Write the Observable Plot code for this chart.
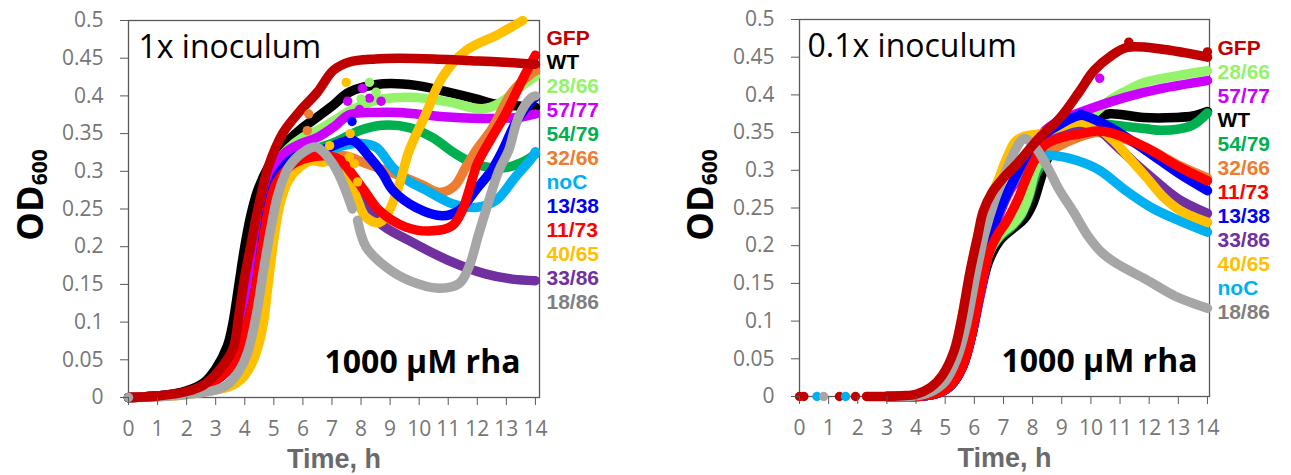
<!DOCTYPE html>
<html>
<head>
<meta charset="utf-8">
<script src="https://cdn.jsdelivr.net/npm/d3@7"></script>
<script src="https://cdn.jsdelivr.net/npm/@observablehq/plot@0.6"></script>
<style>
  body { margin: 0; background: #fff; }
  #chart { display: flex; width: 1291px; height: 475px; }
</style>
</head>
<body>
<div id="chart"></div>
<script>
// Strains, colours and draw order (first drawn is at the bottom)
const strains = ["GFP", "WT", "28/66", "57/77", "54/79", "32/66", "noC", "13/38", "11/73", "40/65", "33/86", "18/86"];
const lineColors = ["#c00000", "#000000", "#94f36a", "#cc00ff", "#00b050", "#ed7d31", "#00b0f0", "#0000ff", "#ff0000", "#ffc000", "#7030a0", "#a6a6a6"];
const labelColors = ["#c00000", "#000000", "#94f36a", "#cc00ff", "#00b050", "#ed7d31", "#00b0f0", "#0000ff", "#ff0000", "#ffc000", "#7030a0", "#7f7f7f"];
const drawOrder = ["WT", "54/79", "28/66", "57/77", "32/66", "noC", "33/86", "40/65", "13/38", "11/73", "18/86", "GFP"];
const labelOrder1x = ["GFP", "WT", "28/66", "57/77", "54/79", "32/66", "noC", "13/38", "11/73", "40/65", "33/86", "18/86"];
const labelOrder01x = ["GFP", "28/66", "57/77", "WT", "54/79", "32/66", "11/73", "13/38", "33/86", "40/65", "noC", "18/86"];
const xTicks = [0, 1, 2, 3, 4, 5, 6, 7, 8, 9, 10, 11, 12, 13, 14];
const yTicks = [0, 0.05, 0.1, 0.15, 0.2, 0.25, 0.3, 0.35, 0.4, 0.45, 0.5];

// ---- 1x inoculum: [time h, OD600] ----
const gfp_1x = [[0,0],[1,0.002],[2,0.008],[2.6,0.017],[3.2,0.04],[3.6,0.065],[3.8,0.11],[4.0,0.16],[4.2,0.2],[4.4,0.24],[4.6,0.275],[4.8,0.305],[5.3,0.35],[5.9,0.38],[6.5,0.405],[7.05,0.434],[7.6,0.445],[8.5,0.449],[9.3,0.45],[10.5,0.449],[11.6,0.447],[12.8,0.445],[14,0.442]];
const wt_1x = [[0,0],[1,0.002],[2,0.009],[2.6,0.02],[3.0,0.038],[3.4,0.068],[3.6,0.1],[3.8,0.15],[4.0,0.2],[4.2,0.24],[4.45,0.275],[4.8,0.305],[5.3,0.333],[5.9,0.355],[6.5,0.372],[7.05,0.388],[7.6,0.405],[8.75,0.416],[9.9,0.414],[11.0,0.405],[11.95,0.396],[12.5,0.39],[13.3,0.387],[14,0.385]];
const s2866_1x = [[0,0],[1,0.002],[2,0.007],[2.8,0.02],[3.4,0.045],[3.8,0.085],[4.15,0.15],[4.45,0.22],[4.7,0.27],[5.0,0.305],[5.5,0.33],[6.0,0.345],[6.58,0.356],[7.1,0.368],[7.6,0.38],[8.2,0.39],[8.74,0.396],[9.9,0.398],[11.0,0.392],[12.17,0.383],[12.74,0.39],[13.42,0.41],[14,0.426]];
const s5777_1x = [[0,0],[1,0.002],[2,0.007],[2.8,0.02],[3.4,0.045],[3.8,0.085],[4.15,0.15],[4.45,0.22],[4.7,0.27],[5.0,0.305],[5.4,0.325],[5.9,0.336],[6.5,0.345],[7.1,0.36],[7.6,0.375],[8.5,0.378],[9.3,0.378],[11.0,0.372],[12.7,0.37],[13.5,0.372],[14,0.376]];
const s5479_1x = [[0,0],[1,0.002],[2,0.007],[2.8,0.02],[3.4,0.045],[3.8,0.085],[4.15,0.15],[4.45,0.22],[4.7,0.265],[5.0,0.295],[5.5,0.315],[6.2,0.327],[7.0,0.337],[7.5,0.346],[7.95,0.354],[8.74,0.361],[9.66,0.358],[10.45,0.345],[11.26,0.323],[12.05,0.308],[12.97,0.305],[13.65,0.314],[14,0.323]];
const s3266_1x = [[0,0],[1,0.002],[2,0.006],[2.8,0.018],[3.5,0.04],[3.9,0.075],[4.3,0.13],[4.6,0.2],[4.85,0.255],[5.1,0.285],[5.5,0.305],[6.1,0.316],[6.8,0.322],[7.5,0.32],[8.2,0.31],[8.9,0.3],[9.5,0.292],[10.1,0.282],[10.7,0.272],[11.2,0.28],[11.6,0.305],[12.0,0.33],[12.5,0.356],[13.2,0.405],[13.88,0.43],[14,0.433]];
const noC_1x = [[0,0],[1,0.002],[2,0.006],[2.8,0.018],[3.5,0.04],[3.9,0.075],[4.3,0.13],[4.6,0.2],[4.85,0.255],[5.1,0.285],[5.6,0.308],[6.2,0.32],[6.9,0.328],[7.5,0.335],[8.0,0.337],[8.52,0.332],[9.09,0.305],[9.6,0.288],[10.23,0.275],[11.14,0.257],[11.94,0.252],[12.63,0.261],[13.3,0.292],[13.88,0.318],[14,0.326]];
const s1338_1x = [[0,0],[1,0.002],[2,0.006],[2.8,0.018],[3.5,0.04],[3.9,0.075],[4.3,0.129],[4.65,0.217],[4.85,0.26],[5.1,0.292],[5.5,0.313],[6.1,0.325],[6.8,0.33],[7.3,0.338],[7.72,0.341],[8.29,0.319],[8.74,0.297],[9.09,0.275],[9.89,0.252],[10.8,0.241],[11.37,0.248],[11.94,0.275],[12.5,0.302],[12.9,0.33],[13.3,0.363],[13.88,0.394],[14,0.398]];
const s1173_1x = [[0,0],[1,0.002],[2,0.006],[2.8,0.018],[3.5,0.04],[3.9,0.075],[4.3,0.13],[4.6,0.2],[4.85,0.255],[5.1,0.285],[5.6,0.308],[6.2,0.318],[6.9,0.32],[7.3,0.315],[7.6,0.301],[8.1,0.275],[8.63,0.248],[9.54,0.226],[10.45,0.221],[11.14,0.228],[11.48,0.248],[11.71,0.274],[12.0,0.31],[12.5,0.345],[12.97,0.376],[13.65,0.429],[14,0.454]];
const s4065_1x = [[0,0],[1,0.001],[2,0.004],[3,0.01],[3.5,0.015],[3.9,0.025],[4.3,0.05],[4.6,0.09],[4.8,0.15],[5.0,0.21],[5.2,0.255],[5.5,0.288],[5.9,0.306],[6.3,0.314],[6.7,0.312],[7.0,0.316],[7.35,0.315],[7.6,0.292],[7.89,0.261],[8.17,0.239],[8.63,0.232],[8.97,0.248],[9.32,0.283],[9.66,0.328],[10.23,0.376],[10.8,0.425],[11.6,0.46],[12.74,0.482],[13.56,0.5]];
const s3386_1x = [[0,0],[1,0.002],[2,0.006],[2.8,0.018],[3.5,0.04],[3.9,0.075],[4.3,0.13],[4.6,0.2],[4.85,0.255],[5.1,0.285],[5.6,0.308],[6.2,0.318],[6.9,0.32],[7.5,0.302],[8.0,0.27],[8.63,0.232],[9.66,0.208],[11.0,0.182],[12.28,0.164],[13.2,0.157],[14,0.155]];
const s1886_1x = [[0,0],[1,0.001],[2,0.004],[3,0.01],[3.4,0.017],[3.8,0.035],[4.1,0.06],[4.4,0.11],[4.65,0.17],[4.9,0.225],[5.15,0.27],[5.5,0.305],[6.0,0.325],[6.46,0.332],[7.03,0.31],[7.37,0.284],[7.7,0.25],[7.8,NaN],[7.88,0.235],[8.17,0.2],[8.86,0.173],[9.66,0.155],[10.68,0.145],[11.37,0.151],[11.71,0.173],[12.05,0.217],[12.4,0.261],[12.74,0.301],[13.08,0.328],[13.42,0.372],[13.87,0.398],[14,0.4]];
// isolated readings: [strain, time h, OD600]
const strays_1x = [["32/66",6.15,0.354],["32/66",6.2,0.376],["40/65",7.49,0.418],["40/65",7.63,0.35],["40/65",6.92,0.334],["40/65",7.6,0.319],["40/65",7.77,0.31],["40/65",7.88,0.286],["57/77",8.05,0.41],["57/77",7.54,0.393],["57/77",8.29,0.397],["57/77",8.69,0.393],["57/77",7.95,0.382],["28/66",8.29,0.418],["28/66",8.0,0.396],["28/66",8.52,0.405],["13/38",7.69,0.366],["18/86",0,0]];

// ---- 0.1x inoculum: [time h, OD600] ----
const gfp_01x = [[2.3,0],[3,0],[3.5,0.001],[4,0.003],[4.5,0.012],[4.9,0.028],[5.3,0.06],[5.55,0.1],[5.85,0.165],[6.1,0.21],[6.3,0.245],[6.6,0.27],[7.0,0.29],[7.5,0.31],[8.2,0.342],[8.95,0.37],[9.6,0.404],[10.1,0.432],[10.7,0.452],[11.25,0.463],[12.4,0.461],[13.2,0.456],[14,0.45]];
const wt_01x = [[3,0],[4.3,0.001],[4.8,0.005],[5.2,0.015],[5.6,0.04],[5.9,0.08],[6.2,0.135],[6.5,0.18],[6.9,0.208],[7.3,0.222],[7.7,0.235],[8.0,0.255],[8.25,0.285],[8.5,0.315],[8.8,0.335],[9.2,0.35],[9.6,0.36],[10.2,0.37],[10.65,0.375],[11.8,0.37],[12.9,0.37],[13.5,0.372],[14,0.378]];
const s2866_01x = [[3,0],[4.3,0.001],[4.8,0.005],[5.2,0.015],[5.6,0.04],[5.9,0.08],[6.2,0.14],[6.5,0.19],[6.9,0.215],[7.3,0.228],[7.6,0.242],[7.85,0.265],[8.15,0.305],[8.6,0.325],[9.3,0.35],[10.1,0.375],[10.65,0.393],[11.2,0.405],[11.8,0.416],[12.9,0.425],[14,0.432]];
const s5777_01x = [[3,0],[4.3,0.001],[4.8,0.005],[5.2,0.015],[5.6,0.04],[5.9,0.08],[6.2,0.135],[6.45,0.185],[6.65,0.216],[7.0,0.255],[7.25,0.275],[7.8,0.305],[8.36,0.35],[8.94,0.366],[9.5,0.375],[10.07,0.383],[11.2,0.397],[12.36,0.408],[14,0.419]];
const s5479_01x = [[3,0],[4.3,0.001],[4.8,0.005],[5.2,0.015],[5.6,0.04],[5.9,0.08],[6.2,0.14],[6.5,0.19],[6.9,0.213],[7.3,0.226],[7.6,0.24],[7.85,0.262],[8.15,0.298],[8.6,0.322],[9.0,0.338],[9.6,0.355],[10.2,0.362],[10.76,0.36],[11.9,0.355],[12.4,0.353],[13.05,0.355],[13.5,0.36],[14,0.376]];
const s3266_01x = [[3,0],[4.3,0.001],[4.8,0.005],[5.2,0.015],[5.6,0.04],[5.9,0.08],[6.2,0.14],[6.5,0.2],[6.8,0.24],[7.2,0.275],[7.6,0.3],[8.0,0.312],[8.4,0.32],[8.8,0.33],[9.6,0.344],[10.2,0.35],[10.8,0.346],[11.9,0.33],[13.05,0.306],[14,0.29]];
const noC_01x = [[3,0],[4.3,0.001],[4.8,0.005],[5.2,0.015],[5.6,0.04],[5.9,0.08],[6.2,0.14],[6.5,0.2],[6.8,0.24],[7.2,0.275],[7.6,0.3],[8.0,0.318],[8.6,0.32],[9.52,0.313],[10.3,0.3],[11.2,0.273],[12.1,0.25],[13.05,0.233],[14,0.218]];
const s1338_01x = [[3,0],[4.3,0.001],[4.8,0.005],[5.2,0.015],[5.6,0.04],[5.9,0.08],[6.2,0.14],[6.5,0.2],[6.8,0.24],[7.2,0.275],[7.8,0.32],[8.3,0.345],[8.9,0.36],[9.4,0.37],[9.7,0.373],[10.2,0.366],[10.76,0.355],[11.9,0.326],[13.05,0.295],[14,0.273]];
const s1173_01x = [[3,0],[4.3,0.001],[4.8,0.005],[5.2,0.015],[5.6,0.04],[5.9,0.08],[6.2,0.14],[6.5,0.19],[6.8,0.215],[7.1,0.232],[7.5,0.262],[7.9,0.3],[8.4,0.333],[9.05,0.344],[9.6,0.348],[10.2,0.352],[10.76,0.349],[11.9,0.33],[13.05,0.304],[14,0.286]];
const s4065_01x = [[3,0],[4.2,0.001],[4.7,0.006],[5.0,0.02],[5.3,0.05],[5.55,0.1],[5.85,0.16],[6.1,0.21],[6.4,0.25],[6.8,0.285],[7.1,0.315],[7.4,0.338],[7.7,0.345],[8.2,0.348],[8.9,0.357],[9.6,0.364],[10.2,0.357],[10.76,0.34],[11.3,0.317],[11.9,0.291],[12.5,0.264],[13.05,0.247],[14,0.231]];
const s3386_01x = [[3,0],[4.3,0.001],[4.8,0.005],[5.2,0.015],[5.6,0.04],[5.9,0.08],[6.2,0.14],[6.5,0.2],[6.8,0.24],[7.2,0.275],[7.8,0.315],[8.5,0.343],[9.6,0.36],[10.2,0.355],[10.8,0.335],[11.5,0.31],[12.1,0.29],[13.0,0.262],[14,0.243]];
const s1886_01x = [[3,0],[4,0.001],[4.5,0.006],[5,0.02],[5.4,0.05],[5.7,0.09],[6.05,0.16],[6.35,0.215],[6.7,0.26],[7.1,0.3],[7.45,0.33],[7.7,0.342],[8.1,0.33],[8.5,0.305],[8.9,0.275],[9.4,0.245],[9.9,0.213],[10.4,0.19],[10.9,0.176],[11.9,0.155],[12.9,0.133],[14,0.117]];
const strays_01x = [["GFP",0,0],["GFP",0.15,0],["GFP",1.37,0],["GFP",1.92,0],["noC",0.6,0],["noC",1.58,0],["18/86",0.83,0],["GFP",11.3,0.47],["GFP",14,0.457],["57/77",10.3,0.422],["13/38",9.65,0.375]];

const curves1x = {"GFP": gfp_1x, "WT": wt_1x, "28/66": s2866_1x, "57/77": s5777_1x, "54/79": s5479_1x, "32/66": s3266_1x, "noC": noC_1x, "13/38": s1338_1x, "11/73": s1173_1x, "40/65": s4065_1x, "33/86": s3386_1x, "18/86": s1886_1x};
const curves01x = {"GFP": gfp_01x, "WT": wt_01x, "28/66": s2866_01x, "57/77": s5777_01x, "54/79": s5479_01x, "32/66": s3266_01x, "noC": noC_01x, "13/38": s1338_01x, "11/73": s1173_01x, "40/65": s4065_01x, "33/86": s3386_01x, "18/86": s1886_01x};

const lineColor = name => lineColors[strains.indexOf(name)];
const labelColor = name => labelColors[strains.indexOf(name)];
const FONT = "'Open Sans', sans-serif";
const TIGHT_FONT = "'Liberation Sans', Arial, sans-serif";

function panel(cfg) {
  const marks = [Plot.frame({stroke: "#595959", strokeWidth: 1.3})];
  for (const name of drawOrder) {
    marks.push(Plot.line(cfg.curves[name], {
      x: d => d[0], y: d => d[1], stroke: lineColor(name), strokeWidth: 9.5,
      strokeLinecap: "round", strokeLinejoin: "round", curve: "catmull-rom"
    }));
  }
  marks.push(Plot.dot(cfg.strays, {x: d => d[1], y: d => d[2], r: 4.7, fill: d => lineColor(d[0]), stroke: "none"}));
  marks.push(
    Plot.axisX({ticks: xTicks, tickSize: 8, tickPadding: 16, label: null, stroke: "#595959", fill: "#767676", tickFormat: d => String(d)}),
    Plot.axisY({ticks: yTicks, tickSize: 8, tickPadding: 17, label: null, stroke: "#595959", fill: "#767676", tickFormat: d => String(+d.toFixed(2))})
  );
  // strain names stacked beside the right edge of the frame
  cfg.labelOrder.forEach((name, i) => {
    marks.push(Plot.text([name], {
      text: d => d, y: () => cfg.labelTop - i * cfg.labelStep, frameAnchor: "right", dx: cfg.labelDx,
      textAnchor: "start", lineAnchor: "middle", fill: labelColor(name), fontWeight: "bold",
      fontSize: 21, fontFamily: TIGHT_FONT
    }));
  });
  marks.push(
    Plot.text([cfg.title], {text: d => d, frameAnchor: "top-left", dx: cfg.titleDx, dy: 27, textAnchor: "start", lineAnchor: "middle", fill: "#000", fontSize: 32}),
    Plot.text(["1000 µM rha"], {text: d => d, frameAnchor: "bottom-right", dx: cfg.rhaDx, dy: -35, textAnchor: "end", lineAnchor: "middle", fill: "#000", fontWeight: "bold", fontSize: 32}),
    Plot.text(["Time, h"], {text: d => d, frameAnchor: "bottom", dy: 61.5, lineAnchor: "middle", fill: "#6a6a6a", fontWeight: "bold", fontSize: 27, fontFamily: TIGHT_FONT})
  );

  const svg = Plot.plot({
    width: cfg.width, height: 475,
    marginLeft: cfg.marginLeft, marginRight: cfg.marginRight, marginTop: cfg.marginTop, marginBottom: cfg.marginBottom,
    x: {domain: [0, cfg.xMax]},
    y: {domain: [0, 0.5]},
    style: {fontFamily: FONT, fontSize: "21px", background: "#fff", overflow: "visible"},
    marks
  });

  // y-axis title with subscript
  const t = d3.select(svg).append("text")
    .attr("transform", `translate(${cfg.odX},195) rotate(-90)`)
    .attr("text-anchor", "middle")
    .attr("font-family", FONT)
    .attr("font-weight", "bold")
    .attr("font-size", 36)
    .attr("fill", "#000");
  t.append("tspan").text("OD");
  t.append("tspan").attr("font-size", 21).attr("dy", 4).text("600");
  return svg;
}

const chart = document.getElementById("chart");
chart.append(panel({
  width: 645, marginLeft: 128, marginRight: 106, marginTop: 20, marginBottom: 78, xMax: 14.14,
  curves: curves1x, strays: strays_1x, labelOrder: labelOrder1x, labelTop: 0.477, labelStep: 0.0319,
  labelDx: 7, title: "1x inoculum", titleDx: 10, rhaDx: -19, odX: 43
}));
chart.append(panel({
  width: 646, marginLeft: 154, marginRight: 82, marginTop: 19, marginBottom: 79, xMax: 14.07,
  curves: curves01x, strays: strays_01x, labelOrder: labelOrder01x, labelTop: 0.462, labelStep: 0.0318,
  labelDx: 8, title: "0.1x inoculum", titleDx: 8, rhaDx: -12, odX: 68
}));
</script>
</body>
</html>
